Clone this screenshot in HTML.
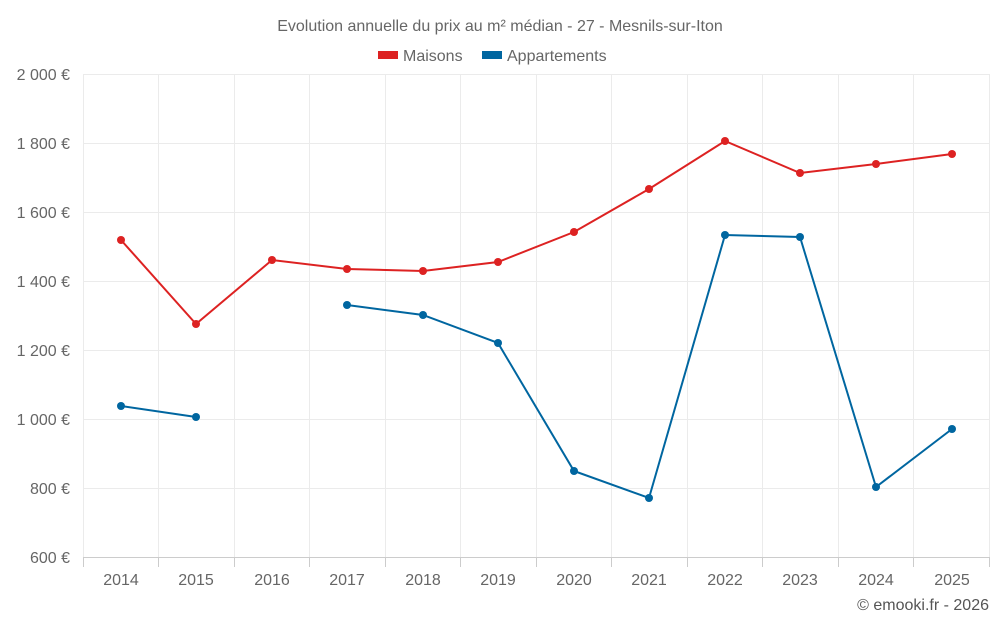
<!DOCTYPE html>
<html><head><meta charset="utf-8"><style>
body{margin:0;background:#fff;}
svg{display:block;font-family:"Liberation Sans",sans-serif;}
</style></head><body>
<svg width="1000" height="625" viewBox="0 0 1000 625">
<text x="500" y="31" text-anchor="middle" font-size="16" fill="#666">Evolution annuelle du prix au m² médian - 27 - Mesnils-sur-Iton</text>
<rect x="378" y="51" width="20" height="8" fill="#dd2222"/>
<text x="403" y="61" font-size="16" fill="#666">Maisons</text>
<rect x="482" y="51" width="20" height="8" fill="#0066a0"/>
<text x="507" y="61" font-size="16" fill="#666">Appartements</text>
<g stroke="#ebebeb" stroke-width="1">
<line x1="83" y1="74.5" x2="990" y2="74.5"/><line x1="83" y1="143.5" x2="990" y2="143.5"/>
<line x1="83" y1="212.5" x2="990" y2="212.5"/><line x1="83" y1="281.5" x2="990" y2="281.5"/>
<line x1="83" y1="350.5" x2="990" y2="350.5"/><line x1="83" y1="419.5" x2="990" y2="419.5"/>
<line x1="83" y1="488.5" x2="990" y2="488.5"/>
<line x1="83.5" y1="74" x2="83.5" y2="557"/><line x1="158.5" y1="74" x2="158.5" y2="557"/>
<line x1="234.5" y1="74" x2="234.5" y2="557"/><line x1="309.5" y1="74" x2="309.5" y2="557"/>
<line x1="385.5" y1="74" x2="385.5" y2="557"/><line x1="460.5" y1="74" x2="460.5" y2="557"/>
<line x1="536.5" y1="74" x2="536.5" y2="557"/><line x1="611.5" y1="74" x2="611.5" y2="557"/>
<line x1="687.5" y1="74" x2="687.5" y2="557"/><line x1="762.5" y1="74" x2="762.5" y2="557"/>
<line x1="838.5" y1="74" x2="838.5" y2="557"/><line x1="913.5" y1="74" x2="913.5" y2="557"/>
<line x1="989.5" y1="74" x2="989.5" y2="557"/>
</g>
<line x1="83" y1="557.5" x2="990" y2="557.5" stroke="#ccc"/>
<g stroke="#ccc">
<line x1="83.5" y1="557" x2="83.5" y2="567"/><line x1="158.5" y1="557" x2="158.5" y2="567"/>
<line x1="234.5" y1="557" x2="234.5" y2="567"/><line x1="309.5" y1="557" x2="309.5" y2="567"/>
<line x1="385.5" y1="557" x2="385.5" y2="567"/><line x1="460.5" y1="557" x2="460.5" y2="567"/>
<line x1="536.5" y1="557" x2="536.5" y2="567"/><line x1="611.5" y1="557" x2="611.5" y2="567"/>
<line x1="687.5" y1="557" x2="687.5" y2="567"/><line x1="762.5" y1="557" x2="762.5" y2="567"/>
<line x1="838.5" y1="557" x2="838.5" y2="567"/><line x1="913.5" y1="557" x2="913.5" y2="567"/>
<line x1="989.5" y1="557" x2="989.5" y2="567"/>
</g>
<g font-size="16" fill="#666" text-anchor="end">
<text x="70" y="80">2 000 €</text><text x="70" y="149">1 800 €</text>
<text x="70" y="218">1 600 €</text><text x="70" y="287">1 400 €</text>
<text x="70" y="356">1 200 €</text><text x="70" y="425">1 000 €</text>
<text x="70" y="494">800 €</text><text x="70" y="563">600 €</text>
</g>
<g font-size="16" fill="#666" text-anchor="middle">
<text x="121" y="585">2014</text><text x="196" y="585">2015</text><text x="272" y="585">2016</text>
<text x="347" y="585">2017</text><text x="423" y="585">2018</text><text x="498" y="585">2019</text>
<text x="574" y="585">2020</text><text x="649" y="585">2021</text><text x="725" y="585">2022</text>
<text x="800" y="585">2023</text><text x="876" y="585">2024</text><text x="952" y="585">2025</text>
</g>
<polyline fill="none" stroke="#dd2222" stroke-width="2" points="121,240 196,324 272,260 347,269 423,271 498,262 574,232 649,189 725,141 800,173 876,164 952,154"/>
<g fill="#dd2222">
<circle cx="121" cy="240" r="4"/><circle cx="196" cy="324" r="4"/><circle cx="272" cy="260" r="4"/><circle cx="347" cy="269" r="4"/><circle cx="423" cy="271" r="4"/><circle cx="498" cy="262" r="4"/><circle cx="574" cy="232" r="4"/><circle cx="649" cy="189" r="4"/><circle cx="725" cy="141" r="4"/><circle cx="800" cy="173" r="4"/><circle cx="876" cy="164" r="4"/><circle cx="952" cy="154" r="4"/>
</g>
<polyline fill="none" stroke="#0066a0" stroke-width="2" points="121,406 196,417"/>
<polyline fill="none" stroke="#0066a0" stroke-width="2" points="347,305 423,315 498,343 574,471 649,498 725,235 800,237 876,487 952,429"/>
<g fill="#0066a0">
<circle cx="121" cy="406" r="4"/><circle cx="196" cy="417" r="4"/><circle cx="347" cy="305" r="4"/><circle cx="423" cy="315" r="4"/><circle cx="498" cy="343" r="4"/><circle cx="574" cy="471" r="4"/><circle cx="649" cy="498" r="4"/><circle cx="725" cy="235" r="4"/><circle cx="800" cy="237" r="4"/><circle cx="876" cy="487" r="4"/><circle cx="952" cy="429" r="4"/>
</g>
<text x="989" y="610" text-anchor="end" font-size="16" fill="#555">© emooki.fr - 2026</text>
</svg>
</body></html>
